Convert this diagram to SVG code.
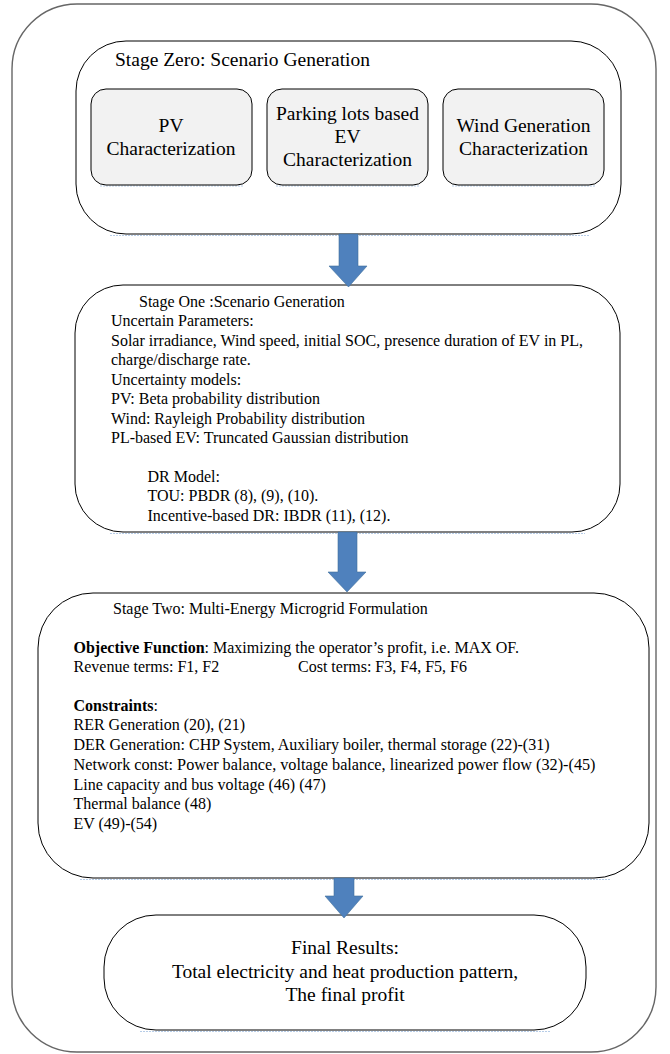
<svg xmlns="http://www.w3.org/2000/svg" width="670" height="1054" viewBox="0 0 670 1054">
<style>
.box{fill:#fff;stroke:#000;stroke-width:1}
.sub{fill:#f2f2f2;stroke:#000;stroke-width:1}
.frame{fill:#fff;stroke:#666;stroke-width:1.4}
.shadow{fill:none;stroke:#b7cde8;stroke-width:1.2;stroke-dasharray:2 1}
.arrow{fill:#4f81bd;stroke:#41719c;stroke-width:0.6}
text{font-family:"Liberation Serif","Times New Roman",serif;fill:#000}
.t19{font-size:19.5px}
.t16{font-size:16px}
.mid{text-anchor:middle}
.b{font-weight:bold}
</style>
<rect id="frame" class="frame" x="12" y="4" width="644" height="1048" rx="65" ry="65"/>

<g id="stage0">
  <line class="shadow" x1="110" y1="235.5" x2="590" y2="235.5"/>
  <rect class="box" x="76" y="41" width="545" height="193" rx="50" ry="50"/>
  <text class="t19" x="115" y="66">Stage Zero: Scenario Generation</text>
</g>
<g id="pv">
  <line class="shadow" x1="100" y1="186" x2="243" y2="186"/>
  <rect class="sub" x="91" y="89" width="161" height="96" rx="15" ry="15"/>
  <text class="t19 mid" x="171" y="131.5">PV</text>
  <text class="t19 mid" x="171" y="154.5">Characterization</text>
</g>
<g id="ev">
  <line class="shadow" x1="276" y1="186" x2="419" y2="186"/>
  <rect class="sub" x="267" y="89" width="161" height="96" rx="15" ry="15"/>
  <text class="t19 mid" x="347.5" y="119.5">Parking lots based</text>
  <text class="t19 mid" x="347.5" y="143">EV</text>
  <text class="t19 mid" x="347.5" y="166">Characterization</text>
</g>
<g id="wind">
  <line class="shadow" x1="452" y1="186" x2="595" y2="186"/>
  <rect class="sub" x="443" y="89" width="161" height="96" rx="15" ry="15"/>
  <text class="t19 mid" x="523.5" y="131.5">Wind Generation</text>
  <text class="t19 mid" x="523.5" y="154.5">Characterization</text>
</g>

<g id="stage1">
  <line class="shadow" x1="110" y1="533.5" x2="585" y2="533.5"/>
  <rect class="box" x="75" y="285" width="545" height="247" rx="48" ry="48"/>
  <text class="t16" x="139" y="307">Stage One :Scenario Generation</text>
  <text class="t16" x="111" y="326">Uncertain Parameters:</text>
  <text class="t16" x="111" y="345.5">Solar irradiance, Wind speed, initial SOC, presence duration of EV in PL,</text>
  <text class="t16" x="111" y="365">charge/discharge rate.</text>
  <text class="t16" x="111" y="385">Uncertainty models:</text>
  <text class="t16" x="111" y="404">PV: Beta probability distribution</text>
  <text class="t16" x="111" y="423.5">Wind: Rayleigh Probability distribution</text>
  <text class="t16" x="111" y="443">PL-based EV: Truncated Gaussian distribution</text>
  <text class="t16" x="147.5" y="482">DR Model:</text>
  <text class="t16" x="147.5" y="501">TOU: PBDR (8), (9), (10).</text>
  <text class="t16" x="147.5" y="521">Incentive-based DR: IBDR (11), (12).</text>
</g>

<g id="stage2">
  <line class="shadow" x1="80" y1="879.5" x2="610" y2="879.5"/>
  <rect class="box" x="38" y="593" width="611" height="285" rx="55" ry="55"/>
  <text class="t16" x="113" y="614">Stage Two: Multi-Energy Microgrid Formulation</text>
  <text class="t16" x="73.5" y="653"><tspan class="b">Objective Function</tspan>: Maximizing the operator’s profit, i.e. MAX OF.</text>
  <text class="t16" x="73.5" y="672">Revenue terms: F1, F2</text>
  <text class="t16" x="298" y="672">Cost terms: F3, F4, F5, F6</text>
  <text class="t16" x="73.5" y="711"><tspan class="b">Constraints</tspan>:</text>
  <text class="t16" x="73.5" y="730">RER Generation (20), (21)</text>
  <text class="t16" x="73.5" y="750">DER Generation: CHP System, Auxiliary boiler, thermal storage (22)-(31)</text>
  <text class="t16" x="73.5" y="770" textLength="522" lengthAdjust="spacingAndGlyphs">Network const: Power balance, voltage balance, linearized power flow (32)-(45)</text>
  <text class="t16" x="73.5" y="789.5">Line capacity and bus voltage (46) (47)</text>
  <text class="t16" x="73.5" y="809">Thermal balance (48)</text>
  <text class="t16" x="73.5" y="828.5">EV (49)-(54)</text>
</g>

<g id="final">
  <line class="shadow" x1="140" y1="1031.5" x2="550" y2="1031.5"/>
  <rect class="box" x="104" y="915" width="482" height="115" rx="52" ry="52"/>
  <text class="t19 mid" x="345" y="954">Final Results:</text>
  <text class="t19 mid" x="345" y="978">Total electricity and heat production pattern,</text>
  <text class="t19 mid" x="345" y="1001">The final profit</text>
</g>

<g id="connectors">
  <polygon class="arrow" points="339,234 358,234 358,266 367,266 348.5,287 329,266 339,266"/>
  <polygon class="arrow" points="338,532 357,532 357,572 366,572 347,592 328,572 338,572"/>
  <polygon class="arrow" points="334,878 354,878 354,896 363,896 344,918 325,896 334,896"/>
</g>
</svg>
